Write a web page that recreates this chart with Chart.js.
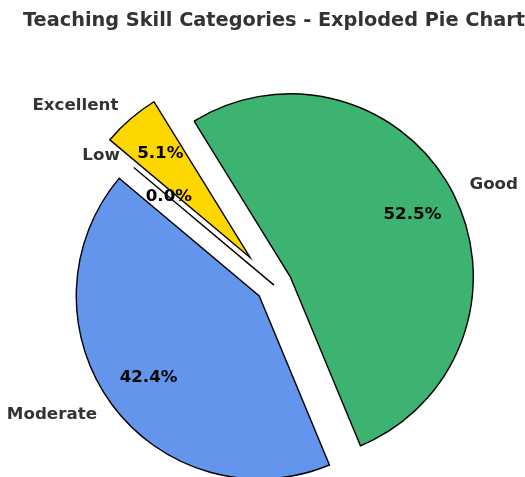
<!DOCTYPE html>
<html>
<head>
<meta charset="utf-8">
<script src="https://cdn.jsdelivr.net/npm/chart.js@4"></script>
<style>
  html, body { margin: 0; padding: 0; background: #fff; }
  #wrap { width: 525px; height: 477px; }
</style>
</head>
<body>
<div id="wrap"><canvas id="skillChart" width="525" height="477"></canvas></div>
<script>
// skill categories and how many teachers fell in each
const categories = ['Excellent', 'Good', 'Moderate', 'Low'];
const counts = [3, 31, 25, 0];
const sliceColors = ['#FFD700', '#3CB371', '#6495ED', '#FF6347'];

// how far each slice is pulled out, as a part of the radius
const explode = [0.2, 0.1, 0.1, 0];

const total = counts.reduce((a, b) => a + b, 0);

// move the arcs outward along their middle angle (matplotlib style explode)
const explodePlugin = {
    id: 'explodePlugin',
    afterDatasetUpdate(chart, args) {
        const arcs = chart.getDatasetMeta(args.index).data;
        arcs.forEach((arc, i) => {
            const mid = (arc.startAngle + arc.endAngle) / 2;
            const d = explode[i] * arc.outerRadius;
            arc.x += Math.cos(mid) * d;
            arc.y += Math.sin(mid) * d;
        });
    }
};

// labels outside, percentages inside, plus the empty "Low" wedge line
const labelPlugin = {
    id: 'labelPlugin',
    afterDatasetsDraw(chart) {
        const ctx = chart.ctx;
        const arcs = chart.getDatasetMeta(0).data;
        ctx.save();
        arcs.forEach((arc, i) => {
            const r = arc.outerRadius;
            if (arc.endAngle - arc.startAngle === 0) {
                ctx.strokeStyle = '#000';
                ctx.lineWidth = 1.4;
                ctx.beginPath();
                ctx.moveTo(arc.x, arc.y);
                ctx.lineTo(arc.x + Math.cos(arc.startAngle) * r, arc.y + Math.sin(arc.startAngle) * r);
                ctx.stroke();
            }
        });
        ctx.font = 'bold 16.7px "DejaVu Sans"';
        ctx.textBaseline = 'middle';
        arcs.forEach((arc, i) => {
            const mid = (arc.startAngle + arc.endAngle) / 2;
            const r = arc.outerRadius;
            const lx = arc.x + Math.cos(mid) * r * 1.1;
            const ly = arc.y + Math.sin(mid) * r * 1.1;
            ctx.fillStyle = '#333333';
            ctx.textAlign = Math.cos(mid) < 0 ? 'right' : 'left';
            ctx.fillText(categories[i], lx, ly);

            const px = arc.x + Math.cos(mid) * r * 0.75;
            const py = arc.y + Math.sin(mid) * r * 0.75;
            ctx.fillStyle = '#000000';
            ctx.textAlign = 'center';
            ctx.fillText((counts[i] / total * 100).toFixed(1) + '%', px, py);
        });
        ctx.restore();
    }
};

const ctx = document.getElementById('skillChart').getContext('2d');
new Chart(ctx, {
    type: 'pie',
    data: {
        labels: categories,
        datasets: [{
            data: counts,
            backgroundColor: sliceColors,
            borderColor: '#000000',
            borderWidth: 1.4,
            borderJoinStyle: 'miter',
            clip: false
        }]
    },
    options: {
        responsive: false,
        animation: false,
        rotation: -50,
        radius: 183,
        layout: {
            padding: { left: 23, right: 0, top: 0, bottom: 0 }
        },
        plugins: {
            legend: { display: false },
            tooltip: { enabled: false },
            title: {
                display: true,
                text: 'Teaching Skill Categories - Exploded Pie Chart',
                color: '#333333',
                font: { family: '"DejaVu Sans"', size: 19.4, weight: 'bold' },
                padding: { top: 9, bottom: 61 }
            }
        }
    },
    plugins: [explodePlugin, labelPlugin]
});
</script>
</body>
</html>
